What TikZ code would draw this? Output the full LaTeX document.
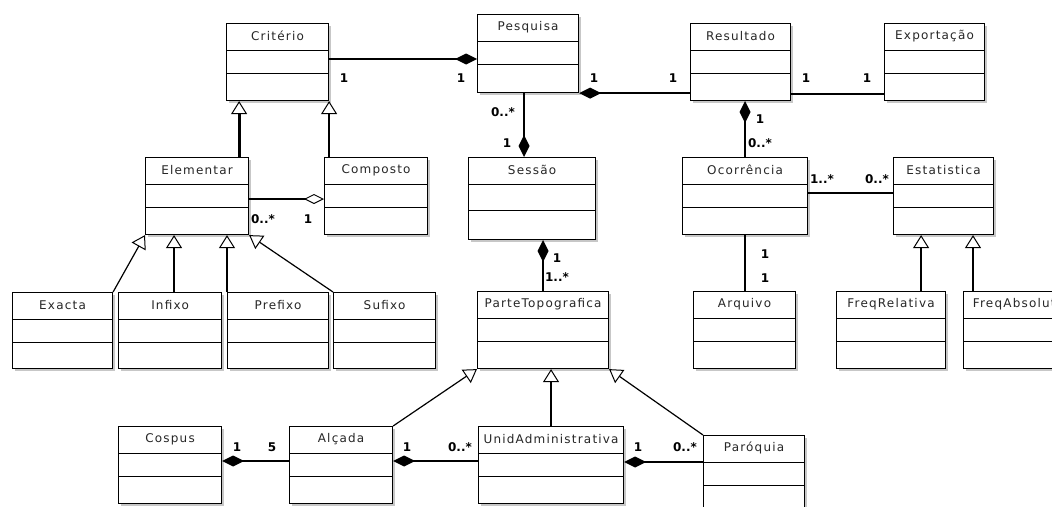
\documentclass[tikz,border=0pt]{standalone}
\usepackage{fontspec}
\setmainfont{DejaVu Sans}[LetterSpace=10]
\newfontfamily\multfont{DejaVu Sans}
\usetikzlibrary{arrows.meta,calc,shadows}

\begin{document}
\begin{tikzpicture}[x=1pt,y=-1pt,
    class/.style={draw, line width=1.1pt, fill=white, anchor=north west, inner sep=0pt,
      minimum height=77pt,
      drop shadow={shadow xshift=2pt, shadow yshift=-2pt, fill=black!22, opacity=1}},
    classname/.style={font=\fontsize{12}{14}\selectfont, inner sep=0pt, text=black!85},
    mult/.style={font=\multfont\bfseries\fontsize{12}{14}\selectfont, inner sep=0pt},
    divider/.style={line width=1pt},
    assoc/.style={line width=1.6pt},
    midlink/.style={line width=2pt},
    boldlink/.style={line width=2.8pt},
    thinlink/.style={line width=1.2pt},
    composite/.style={-{Diamond[length=22pt,width=11pt]}},
    aggr/.style={-{Diamond[open,length=20pt,width=10pt,line width=1pt]}},
    gen/.style={-{Triangle[open,length=13pt,width=16pt,line width=1pt]}}]

    \useasboundingbox (0,0) rectangle (1052,506);
    \clip (0,0) rectangle (1052,506);

    % classes
    \node[class, minimum width=102pt] (crit) at (226,23) {};
    \node[class, minimum width=101pt, minimum height=78pt] (pesq) at (477,14) {};
    \node[class, minimum width=100pt] (result) at (690,23) {};
    \node[class, minimum width=100pt] (export) at (884,23) {};
    \node[class, minimum width=103pt] (elem) at (145,157) {};
    \node[class, minimum width=103pt] (compo) at (324,157) {};
    \node[class, minimum width=127pt, minimum height=82pt] (sessao) at (468,157) {};
    \node[class, minimum width=125pt] (ocorr) at (682,157) {};
    \node[class, minimum width=100pt] (estat) at (893,157) {};
    \node[class, minimum width=100pt, minimum height=76pt] (exacta) at (12,292) {};
    \node[class, minimum width=103pt, minimum height=76pt] (infixo) at (118,292) {};
    \node[class, minimum width=101pt, minimum height=76pt] (prefixo) at (227,292) {};
    \node[class, minimum width=102pt, minimum height=76pt] (sufixo) at (333,292) {};
    \node[class, minimum width=131pt] (parte) at (477,291) {};
    \node[class, minimum width=102pt] (arquivo) at (693,291) {};
    \node[class, minimum width=109pt] (frel) at (836,291) {};
    \node[class, minimum width=110pt] (fabs) at (963,291) {};
    \node[class, minimum width=103pt] (cospus) at (118,426) {};
    \node[class, minimum width=103pt] (alcada) at (289,426) {};
    \node[class, minimum width=145pt] (unid) at (478,426) {};
    \node[class, minimum width=101pt, minimum height=80pt] (paroq) at (703,435) {};

    \foreach \c in {crit,pesq,result,export,elem,compo,ocorr,estat,exacta,infixo,prefixo,
                    sufixo,parte,arquivo,frel,fabs,cospus,alcada,unid,paroq}
      \draw[divider] ($(\c.north west)+(0,27)$) -- ($(\c.north east)+(0,27)$)
                     ($(\c.north west)+(0,50)$) -- ($(\c.north east)+(0,50)$);
    \draw[divider] ($(sessao.north west)+(0,27)$) -- ($(sessao.north east)+(0,27)$)
                   ($(sessao.north west)+(0,53)$) -- ($(sessao.north east)+(0,53)$);

    \node[classname] (crit-t) at ([yshift=-13pt]crit.north) {Critério};
    \node[classname] (pesq-t) at ([yshift=-13pt]pesq.north) {Pesquisa};
    \node[classname] (result-t) at ([yshift=-13pt]result.north) {Resultado};
    \node[classname] (export-t) at ([yshift=-13pt]export.north) {Exportação};
    \node[classname] (elem-t) at ([yshift=-13pt]elem.north) {Elementar};
    \node[classname] (compo-t) at ([yshift=-13pt]compo.north) {Composto};
    \node[classname] (sessao-t) at ([yshift=-13pt]sessao.north) {Sessão};
    \node[classname] (ocorr-t) at ([yshift=-13pt]ocorr.north) {Ocorrência};
    \node[classname] (estat-t) at ([yshift=-13pt]estat.north) {Estatistica};
    \node[classname] (exacta-t) at ([yshift=-13pt]exacta.north) {Exacta};
    \node[classname] (infixo-t) at ([yshift=-13pt]infixo.north) {Infixo};
    \node[classname] (prefixo-t) at ([yshift=-13pt]prefixo.north) {Prefixo};
    \node[classname] (sufixo-t) at ([yshift=-13pt]sufixo.north) {Sufixo};
    \node[classname] (parte-t) at ([yshift=-13pt]parte.north) {ParteTopografica};
    \node[classname] (arquivo-t) at ([yshift=-13pt]arquivo.north) {Arquivo};
    \node[classname] (frel-t) at ([yshift=-13pt]frel.north) {FreqRelativa};
    \node[classname] (fabs-t) at ([yshift=-13pt]fabs.north) {FreqAbsoluta};
    \node[classname] (cospus-t) at ([yshift=-13pt]cospus.north) {Cospus};
    \node[classname] (alcada-t) at ([yshift=-13pt]alcada.north) {Alçada};
    \node[classname] (unid-t) at ([yshift=-13pt]unid.north) {UnidAdministrativa};
    \node[classname] (paroq-t) at ([yshift=-13pt]paroq.north) {Paróquia};

    % associations and compositions
    \coordinate (cp) at ([yshift=-36pt]crit.north east);
    \draw[boldlink, composite] (cp) -- (cp -| pesq.west);
    \draw[assoc, {Diamond[length=22pt,width=11pt]}-] (pesq.south east) -- (pesq.south east -| result.west);
    \coordinate (re) at ([yshift=7pt]result.south east);
    \draw[assoc] (re) -- (re -| export.west);
    \draw[midlink, composite] (ocorr.north) -- (ocorr.north |- result.south);
    \coordinate (ps) at ([xshift=-4pt]pesq.south);
    \draw[midlink, composite] (ps) -- (ps |- sessao.north);
    \draw[midlink, {Diamond[length=22pt,width=11pt]}-] (parte.north |- sessao.south) -- (parte.north);
    \coordinate (oe) at ([yshift=-36pt]ocorr.north east);
    \draw[assoc] (oe) -- (oe -| estat.west);
    \draw[midlink] (ocorr.south) -- (ocorr.south |- arquivo.north);
    \coordinate (ec) at ([yshift=-42pt]elem.north east);
    \draw[midlink, aggr] (ec) -- (ec -| compo.west);
    \coordinate (ca) at ([yshift=-35pt]alcada.north west);
    \draw[boldlink, {Diamond[length=22pt,width=11pt]}-] (ca -| cospus.east) -- (ca);
    \coordinate (au) at ([yshift=-35pt]unid.north west);
    \draw[boldlink, {Diamond[length=22pt,width=11pt]}-] (au -| alcada.east) -- (au);
    \coordinate (up) at ([yshift=-27pt]paroq.north west);
    \draw[boldlink, {Diamond[length=22pt,width=11pt]}-] (up -| unid.east) -- (up);

    % generalizations
    \coordinate (eg) at ([xshift=-10pt]elem.north east);
    \draw[boldlink, gen] (eg) -- (eg |- crit.south);
    \draw[midlink, gen] (crit.south east |- compo.north) -- (crit.south east);
    \draw[thinlink, gen] (exacta.north east) -- (elem.south west);
    \coordinate (ig) at ([xshift=4pt]infixo.north);
    \draw[midlink, gen] (ig) -- (ig |- elem.south);
    \draw[midlink, gen] (prefixo.north west) -- (prefixo.north west |- elem.south);
    \draw[thinlink, gen] (sufixo.north west) -- (elem.south east);
    \draw[thinlink, gen] (alcada.north east) -- (parte.south west);
    \draw[boldlink, gen] (unid.north) -- (unid.north |- parte.south);
    \draw[thinlink, gen] (paroq.north west) -- (parte.south east);
    \coordinate (fr) at ([xshift=-25pt]frel.north east);
    \draw[midlink, gen] (fr) -- (fr |- estat.south);
    \coordinate (fa) at ([xshift=10pt]fabs.north west);
    \draw[midlink, gen] (fa) -- (fa |- estat.south);

    % multiplicities
    \node[mult] (m-cp-a) at (344,78) {1};
    \node[mult] (m-cp-b) at (461,78) {1};
    \node[mult] (m-pr-a) at (594,78) {1};
    \node[mult] (m-pr-b) at (673,78) {1};
    \node[mult] (m-re-a) at (806,78) {1};
    \node[mult] (m-re-b) at (867,78) {1};
    \node[mult] (m-ro-a) at (760,119) {1};
    \node[mult] (m-ro-b) at (760,143) {0..*};
    \node[mult] (m-ps-a) at (503,112) {0..*};
    \node[mult] (m-ps-b) at (507,143) {1};
    \node[mult] (m-sp-a) at (557,258) {1};
    \node[mult] (m-sp-b) at (557,277) {1..*};
    \node[mult] (m-oe-a) at (822,179) {1..*};
    \node[mult] (m-oe-b) at (877,179) {0..*};
    \node[mult] (m-oa-a) at (765,254) {1};
    \node[mult] (m-oa-b) at (765,278) {1};
    \node[mult] (m-ec-a) at (263,219) {0..*};
    \node[mult] (m-ec-b) at (308,219) {1};
    \node[mult] (m-ca-a) at (237,447) {1};
    \node[mult] (m-ca-b) at (272,447) {5};
    \node[mult] (m-au-a) at (407,447) {1};
    \node[mult] (m-au-b) at (460,447) {0..*};
    \node[mult] (m-up-a) at (638,447) {1};
    \node[mult] (m-up-b) at (685,447) {0..*};
\end{tikzpicture}
\end{document}
